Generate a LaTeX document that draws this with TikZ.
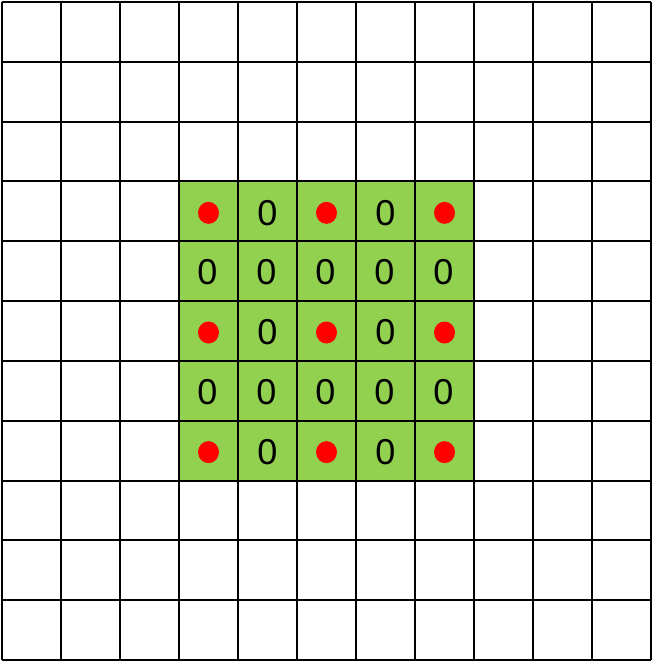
\documentclass[tikz,border=0pt]{standalone}
\usepackage{fontspec}
\setmainfont{Liberation Sans}
\definecolor{cellgreen}{HTML}{92D050}
\definecolor{dotred}{HTML}{FF0000}
\tikzset{
  gridline/.style={line width=2pt, draw=black},
  zerolabel/.style={inner sep=0pt, font=\fontsize{36}{36}\selectfont, text=black},
  reddot/.style={ellipse, fill=dotred, minimum width=21pt, minimum height=22pt, inner sep=0pt},
}
\usetikzlibrary{shapes.geometric}
\begin{document}
\begin{tikzpicture}[x=1pt,y=-1pt]
\useasboundingbox (0,0) rectangle (654,662);
\def\dx{59}
\def\dy{59.818}
% green block
\fill[cellgreen] (2+3*\dx,2+3*\dy) rectangle (2+8*\dx,2+8*\dy);
% grid
\foreach \i in {0,...,11}{
  \draw[gridline] (2+\i*\dx,2) -- (2+\i*\dx,660);
  \draw[gridline] (2,2+\i*\dy) -- (651,2+\i*\dy);
}
% cell contents: rows r=0..4, cols c=0..4 within green block
\foreach \r in {0,...,4}{
  \foreach \c in {0,...,4}{
    \pgfmathtruncatemacro{\re}{mod(\r,2)}
    \pgfmathtruncatemacro{\ce}{mod(\c,2)}
    \pgfmathsetmacro{\cx}{2+(3+\c+0.5)*\dx}
    \pgfmathsetmacro{\cy}{2+(3+\r+0.5)*\dy}
    \ifnum\re=0
      \ifnum\ce=0
        \node[reddot] (d\r\c) at (\cx,\cy+1.5) {};
      \else
        \node[zerolabel] (z\r\c) at (\cx,\cy+1.5) {0};
      \fi
    \else
      \node[zerolabel] (z\r\c) at (\cx-1,\cy+1) {0};
    \fi
  }
}
\end{tikzpicture}
\end{document}
